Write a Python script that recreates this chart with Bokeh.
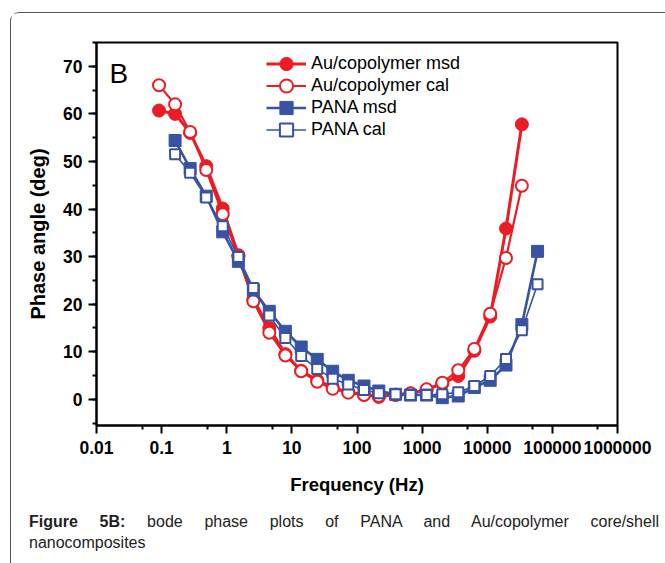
from bokeh.plotting import figure
from bokeh.layouts import column
from bokeh.models import (FixedTicker, SingleIntervalTicker, CustomJSTickFormatter,
                          Legend, LegendItem, Label, Range1d, Div)
from bokeh.embed import file_html
from bokeh.resources import INLINE

# ---------------- data ----------------
freq_au = [0.0912, 0.161, 0.274, 0.484, 0.867, 1.51, 2.56, 4.50, 7.95, 13.9, 24.5, 42.4,
           73.4, 128, 216, 391, 663, 1170, 2040, 3590, 6330, 11100, 19400, 34000]
au_msd = [60.7, 60.0, 56.0, 49.0, 40.1, 30.3, 21.0, 15.0, 9.5, 6.0, 4.0, 2.5,
          1.5, 1.0, 0.5, 1.0, 1.2, 2.0, 3.3, 4.9, 10.2, 17.4, 35.9, 57.8]
au_cal = [66.0, 62.0, 56.2, 48.2, 38.9, 30.0, 20.6, 14.0, 9.2, 5.9, 3.7, 2.2,
          1.4, 0.9, 0.7, 0.9, 1.26, 2.1, 3.5, 6.1, 10.6, 18.0, 29.7, 44.9]

freq_pana = [0.161, 0.274, 0.484, 0.867, 1.51, 2.56, 4.50, 7.95, 13.9, 24.5, 42.4, 73.4,
             128, 216, 391, 663, 1170, 2040, 3590, 6330, 11100, 19400, 34000, 59200]
pana_msd = [54.4, 48.5, 42.7, 35.2, 29.0, 23.0, 18.5, 14.3, 11.0, 8.4, 5.9, 4.0,
            2.8, 1.75, 1.05, 0.9, 0.9, 0.35, 0.7, 2.5, 4.0, 7.2, 15.7, 31.1]
pana_cal = [51.5, 47.6, 42.4, 36.4, 29.9, 23.4, 17.6, 12.9, 9.1, 6.4, 4.3, 3.1,
            1.95, 1.26, 1.05, 0.9, 0.9, 1.05, 1.5, 2.8, 4.9, 8.5, 14.5, 24.2]

x_ticks = [0.01, 0.1, 1, 10, 100, 1000, 10000, 100000, 1000000]
x_minor = [0.05, 0.5, 5, 50, 500, 5000, 50000, 500000]

legend_labels = ["Au/copolymer msd", "Au/copolymer cal", "PANA msd", "PANA cal"]
caption_bold = "Figure 5B:"
caption_line1 = "bode phase plots of PANA and Au/copolymer core/shell"
caption_line2 = "nanocomposites"

RED = "#ED1C24"
BLUE = "#3953A4"
FONT = "Liberation Sans"

# ---------------- figure ----------------
FIG_W, FIG_H = 652, 492
MB_L, MB_R, MB_T, MB_B = 85, 46, 29, 80
p = figure(width=FIG_W, height=FIG_H, x_axis_type="log",
           x_range=Range1d(0.01, 1e6), y_range=Range1d(-5.5, 75),
           output_backend="svg", toolbar_location=None,
           min_border_left=MB_L, min_border_right=MB_R, min_border_top=MB_T, min_border_bottom=MB_B)
p.xgrid.visible = False
p.ygrid.visible = False
p.outline_line_color = "black"
p.outline_line_width = 2
p.outline_line_alpha = 1

# series
l1 = p.line(freq_au, au_msd, line_color=RED, line_width=3)
s1 = p.scatter(freq_au, au_msd, marker="circle", size=13, fill_color=RED, line_color=RED, line_width=1)
l2 = p.line(freq_au, au_cal, line_color=RED, line_width=2.2)
s2 = p.scatter(freq_au, au_cal, marker="circle", size=12, fill_color="white", line_color=RED, line_width=2)
l3 = p.line(freq_pana, pana_msd, line_color=BLUE, line_width=2.6)
s3 = p.scatter(freq_pana, pana_msd, marker="square", size=12, fill_color=BLUE, line_color=BLUE, line_width=1)
l4 = p.line(freq_pana, pana_cal, line_color=BLUE, line_width=1.6)
s4 = p.scatter(freq_pana, pana_cal, marker="square", size=10, fill_color="white", line_color=BLUE, line_width=2)

# axes
for ax in (p.xaxis[0], p.yaxis[0]):
    ax.axis_line_width = 2
    ax.axis_line_color = "black"
    ax.major_tick_line_width = 2
    ax.minor_tick_line_width = 2
    ax.major_tick_in = 0
    ax.minor_tick_in = 0
    ax.major_tick_out = 8
    ax.minor_tick_out = 4
    ax.major_label_text_font = FONT
    ax.major_label_text_font_style = "bold"
    ax.major_label_text_font_size = "17.5px"
    ax.major_label_text_color = "black"
    ax.axis_label_text_font = FONT
    ax.axis_label_text_font_style = "bold"
    ax.axis_label_text_color = "black"

p.xaxis.ticker = FixedTicker(ticks=x_ticks, minor_ticks=x_minor)
p.xaxis.formatter = CustomJSTickFormatter(code="return tick.toString();")
p.xaxis.axis_label = "Frequency (Hz)"
p.xaxis.axis_label_text_font_size = "18.5px"
p.xaxis.major_label_standoff = 7
p.xaxis.axis_label_standoff = 17

p.yaxis.ticker = SingleIntervalTicker(interval=10, num_minor_ticks=2)
p.yaxis.axis_label = "Phase angle (deg)"
p.yaxis.axis_label_text_font_size = "20px"
p.yaxis.major_label_standoff = 6
p.yaxis.axis_label_standoff = 11

# legend: one row per Legend so the marker can be larger than the row pitch
frame_h = FIG_H - MB_T - MB_B
row_centers = [21, 43.2, 65.4, 87.6]       # px below the frame top
groups = [[l1, s1], [l2, s2], [l3, s3], [l4, s4]]
GH = 33
for lab, rends, rc in zip(legend_labels, groups, row_centers):
    lg = Legend(items=[LegendItem(label=lab, renderers=rends)],
                location=(170, frame_h - rc - GH / 2), orientation="vertical",
                glyph_width=40, glyph_height=GH, label_height=GH, spacing=0,
                padding=0, margin=0, border_line_color=None, background_fill_alpha=0,
                label_text_font=FONT, label_text_font_size="18px", label_standoff=5,
                label_text_color="black")
    p.add_layout(lg)

# panel letter
p.add_layout(Label(x=13, y=frame_h - 31, x_units="screen", y_units="screen", text="B",
                   text_font=FONT, text_font_size="28px", text_color="black",
                   text_baseline="alphabetic", text_align="left"))

caption = Div(
    text=(f'<div style="margin-left:13px; width:630px; font-family:\'{FONT}\'; font-size:16px; '
          f'line-height:21px; padding-top:1px; color:#222;">'
          f'<div style="text-align:justify; text-align-last:justify;">'
          f'<b>{caption_bold}</b> {caption_line1}</div>'
          f'<div style="text-align:left;">{caption_line2}</div></div>'),
    width=650, height=52)

layout = column(p, caption, spacing=0,
                styles={"margin-left": "10px", "margin-top": "12px",
                        "border-top": "1.5px solid #555", "border-left": "1.5px solid #555",
                        "border-top-left-radius": "9px"})

open("out.html", "w").write(file_html(layout, INLINE, "plot"))
